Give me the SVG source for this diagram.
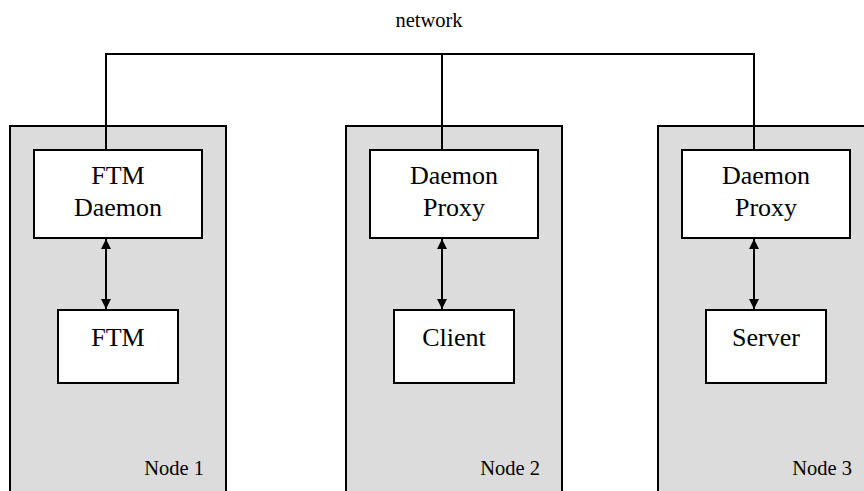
<svg xmlns="http://www.w3.org/2000/svg" width="864" height="491" viewBox="0 0 864 491">
<style>
.node{fill:#dcdcdc;stroke:#000;stroke-width:2}
.box{fill:#fff;stroke:#000;stroke-width:2}
.t{font-family:'Times New Roman',Times,Tinos,serif;font-size:26px;fill:#000;text-anchor:middle}
.lbl{font-family:'Times New Roman',Times,Tinos,serif;font-size:20.5px;fill:#000}
.wire{fill:none;stroke:#000;stroke-width:2}
</style>
<defs>
<marker id="ah" viewBox="0 0 10 10" refX="10" refY="5" markerWidth="5" markerHeight="5" orient="auto-start-reverse" markerUnits="strokeWidth">
<path d="M0,0 L10,5 L0,10 Z" fill="#000"/>
</marker>
</defs>
<rect width="864" height="491" fill="#fff"/>
<text class="lbl" x="429" y="27" text-anchor="middle">network</text>
<g id="node1">
<rect class="node" x="10" y="126" width="216" height="380"/>
<text class="lbl" x="204" y="475" text-anchor="end">Node 1</text>
</g>
<g id="node2">
<rect class="node" x="346" y="126" width="216" height="380"/>
<text class="lbl" x="540" y="475" text-anchor="end">Node 2</text>
</g>
<g id="node3">
<rect class="node" x="658" y="126" width="216" height="380"/>
<text class="lbl" x="852" y="475" text-anchor="end">Node 3</text>
</g>
<g id="ftm-daemon">
<rect class="box" x="34" y="150" width="168" height="88"/>
<text class="t" x="118" y="184">FTM</text>
<text class="t" x="118" y="216">Daemon</text>
</g>
<g id="ftm">
<rect class="box" x="58" y="310" width="120" height="73"/>
<text class="t" x="118" y="346">FTM</text>
</g>
<g id="proxy2">
<rect class="box" x="370" y="150" width="168" height="88"/>
<text class="t" x="454" y="184">Daemon</text>
<text class="t" x="454" y="216">Proxy</text>
</g>
<g id="client">
<rect class="box" x="394" y="310" width="120" height="73"/>
<text class="t" x="454" y="346">Client</text>
</g>
<g id="proxy3">
<rect class="box" x="682" y="150" width="168" height="88"/>
<text class="t" x="766" y="184">Daemon</text>
<text class="t" x="766" y="216">Proxy</text>
</g>
<g id="server">
<rect class="box" x="706" y="310" width="120" height="73"/>
<text class="t" x="766" y="346">Server</text>
</g>
<g id="connectors">
<path class="wire" d="M106,150 V54 H754 V150 M442,54 V150"/>
<line class="wire" x1="106" y1="239" x2="106" y2="309" marker-start="url(#ah)" marker-end="url(#ah)"/>
<line class="wire" x1="442" y1="239" x2="442" y2="309" marker-start="url(#ah)" marker-end="url(#ah)"/>
<line class="wire" x1="754" y1="239" x2="754" y2="309" marker-start="url(#ah)" marker-end="url(#ah)"/>
</g>
</svg>
